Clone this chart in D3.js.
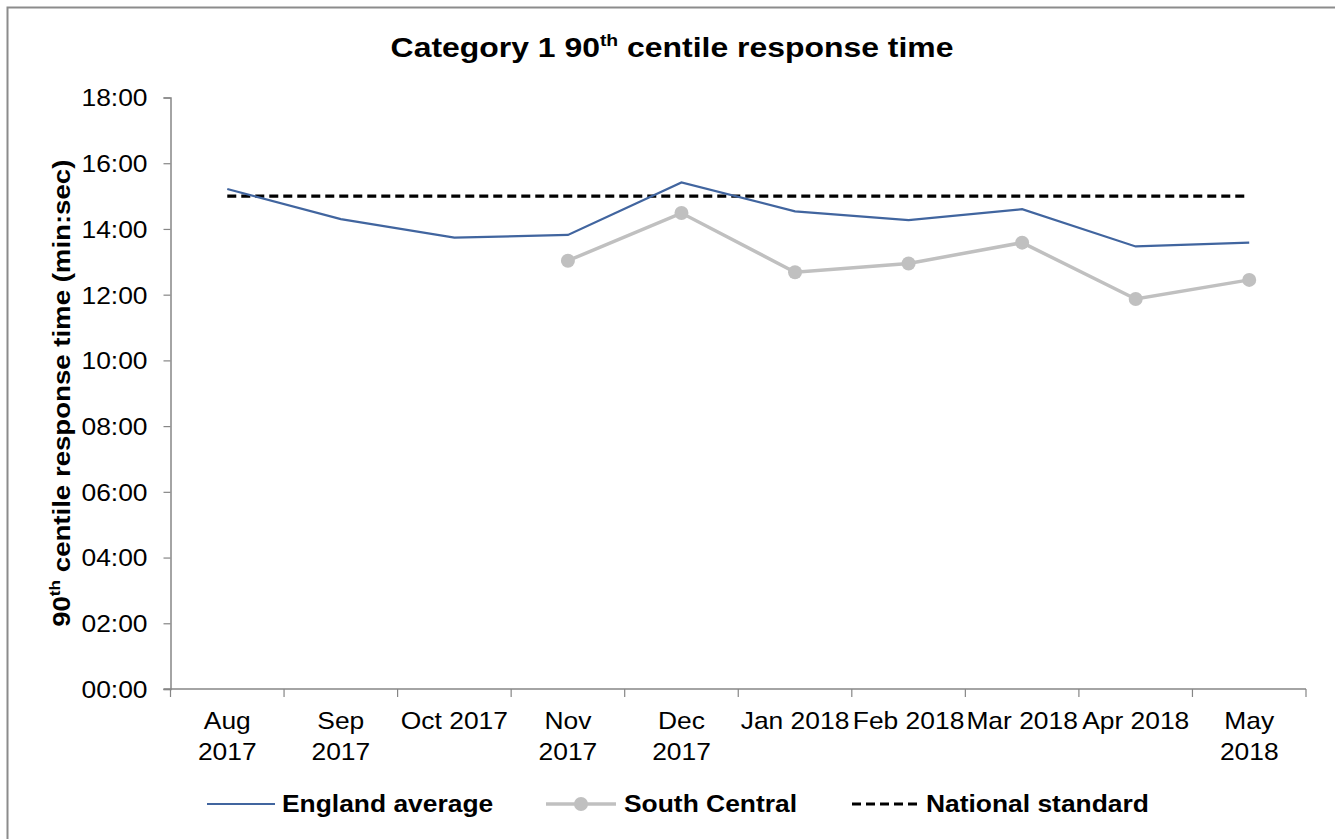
<!DOCTYPE html>
<html>
<head>
<meta charset="utf-8">
<script src="https://cdn.jsdelivr.net/npm/d3@7"></script>
<style>
  html, body { margin: 0; padding: 0; background: #fff; }
  svg { display: block; font-family: "Liberation Sans", Arial, sans-serif; }
</style>
</head>
<body>
<svg id="chart" width="1335" height="839"></svg>
<script>
// Monthly categories
const months = [
  ["Aug", "2017"], ["Sep", "2017"], ["Oct 2017"], ["Nov", "2017"], ["Dec", "2017"],
  ["Jan 2018"], ["Feb 2018"], ["Mar 2018"], ["Apr 2018"], ["May", "2018"]
];
const monthKeys = ["2017-08", "2017-09", "2017-10", "2017-11", "2017-12",
                   "2018-01", "2018-02", "2018-03", "2018-04", "2018-05"];

// 90th centile response times (min:sec)
const englandAverage = ["15:13", "14:18", "13:44", "13:49", "15:25",
                        "14:32", "14:16", "14:36", "13:28", "13:35"];
const southCentral   = [null, null, null, "13:02", "14:29",
                        "12:41", "12:57", "13:35", "11:52", "12:27"];
const nationalStandard = "15:00";

// Y-axis ticks (min:sec)
const yTicks = ["00:00", "02:00", "04:00", "06:00", "08:00", "10:00",
                "12:00", "14:00", "16:00", "18:00"];

const toSec = s => { const [m, ss] = s.split(":").map(Number); return m * 60 + ss; };

const svg = d3.select("#chart");
const plot = { left: 170.5, right: 1306, top: 97.5, bottom: 689 };
const axisColor = "#868686";
const blue = "#41659F";
const grey = "#C0C0C0";
const SX = 1.1;      // horizontal stretch of the text face

// Outer frame
svg.append("rect")
  .attr("x", 7.5).attr("y", 7.5).attr("width", 1400).attr("height", 900)
  .attr("fill", "none").attr("stroke", "#8c8c8c").attr("stroke-width", 2);

const x = d3.scaleBand().domain(monthKeys).range([plot.left, plot.right]).padding(0);
const y = d3.scaleLinear().domain([0, toSec("18:00")]).range([plot.bottom, plot.top]);
const cx = k => x(k) + x.bandwidth() / 2;

// Y axis
const yAxis = svg.append("g").attr("transform", `translate(${plot.left},0)`)
  .call(d3.axisLeft(y).tickValues(yTicks.map(toSec)).tickSize(7).tickFormat((d, i) => yTicks[i]));
yAxis.select(".domain").attr("stroke", axisColor).attr("stroke-width", 1.5);
yAxis.selectAll(".tick line").attr("stroke", axisColor).attr("stroke-width", 1.2);
yAxis.selectAll(".tick text")
  .attr("x", 0).attr("dy", "0.35em")
  .attr("transform", `translate(-23,0) scale(${SX},1)`)
  .attr("font-size", 24).attr("fill", "#000")
  .attr("font-family", "Liberation Sans, Arial, sans-serif");

// X axis (ticks at category boundaries)
const xg = svg.append("g");
xg.append("line")
  .attr("x1", plot.left - 7).attr("x2", plot.right)
  .attr("y1", plot.bottom).attr("y2", plot.bottom)
  .attr("stroke", axisColor).attr("stroke-width", 1.5);
const bounds = monthKeys.map(k => x(k)).concat([x(monthKeys[monthKeys.length - 1]) + x.bandwidth()]);
xg.selectAll("line.tk").data(bounds).join("line")
  .attr("class", "tk")
  .attr("x1", d => d).attr("x2", d => d)
  .attr("y1", plot.bottom).attr("y2", plot.bottom + 8)
  .attr("stroke", axisColor).attr("stroke-width", 1.2);
const lbl = xg.selectAll("text.xl").data(monthKeys).join("text")
  .attr("class", "xl")
  .attr("transform", d => `translate(${cx(d)},${plot.bottom + 40}) scale(${SX},1)`)
  .attr("text-anchor", "middle").attr("font-size", 24).attr("fill", "#000");
lbl.each(function(d, i) {
  const t = d3.select(this);
  months[i].forEach((line, j) => {
    t.append("tspan").attr("x", 0).attr("dy", j === 0 ? 0 : 31).text(line);
  });
});

// National standard (dashed)
svg.append("line")
  .attr("x1", cx(monthKeys[0])).attr("x2", cx(monthKeys[monthKeys.length - 1]))
  .attr("y1", y(toSec(nationalStandard))).attr("y2", y(toSec(nationalStandard)))
  .attr("stroke", "#000").attr("stroke-width", 3.2).attr("stroke-dasharray", "9,5");

// England average
const line = d3.line().defined(d => d.v != null).x(d => cx(d.k)).y(d => y(toSec(d.v)));
svg.append("path")
  .datum(monthKeys.map((k, i) => ({ k, v: englandAverage[i] })))
  .attr("d", line).attr("fill", "none").attr("stroke", blue).attr("stroke-width", 2.2);

// South Central
const scData = monthKeys.map((k, i) => ({ k, v: southCentral[i] }));
svg.append("path").datum(scData)
  .attr("d", line).attr("fill", "none").attr("stroke", grey).attr("stroke-width", 3.5);
svg.selectAll("circle.sc").data(scData.filter(d => d.v != null)).join("circle")
  .attr("class", "sc")
  .attr("cx", d => cx(d.k)).attr("cy", d => y(toSec(d.v))).attr("r", 7)
  .attr("fill", grey);

// Title
const title = svg.append("text")
  .attr("transform", "translate(672,57) scale(1.14,1)")
  .attr("text-anchor", "middle").attr("font-size", 28).attr("font-weight", "bold");
title.append("tspan").text("Category 1 90");
title.append("tspan").attr("font-size", 17).attr("dy", -11).text("th");
title.append("tspan").attr("dy", 11).text(" centile response time");

// Y-axis title
const yt = svg.append("text")
  .attr("transform", `translate(70,${(plot.top + plot.bottom) / 2}) rotate(-90) scale(1.15,1)`)
  .attr("text-anchor", "middle").attr("font-size", 24).attr("font-weight", "bold");
yt.append("tspan").text("90");
yt.append("tspan").attr("font-size", 15).attr("dy", -10).text("th");
yt.append("tspan").attr("dy", 10).text(" centile response time (min:sec)");

// Legend
const lg = svg.append("g").attr("font-size", 24).attr("font-weight", "bold");
const ly = 804;
const legendText = (x0, s) => lg.append("text")
  .attr("transform", `translate(${x0},${ly}) scale(${SX},1)`)
  .attr("dy", "0.35em").text(s);
lg.append("line").attr("x1", 207).attr("x2", 275).attr("y1", ly).attr("y2", ly)
  .attr("stroke", blue).attr("stroke-width", 2.2);
legendText(282, "England average");
lg.append("line").attr("x1", 546).attr("x2", 616).attr("y1", ly).attr("y2", ly)
  .attr("stroke", grey).attr("stroke-width", 3.5);
lg.append("circle").attr("cx", 581).attr("cy", ly).attr("r", 7).attr("fill", grey);
legendText(624, "South Central");
lg.append("line").attr("x1", 852).attr("x2", 918).attr("y1", ly).attr("y2", ly)
  .attr("stroke", "#000").attr("stroke-width", 3.2).attr("stroke-dasharray", "9,5");
legendText(926, "National standard");
</script>
</body>
</html>
